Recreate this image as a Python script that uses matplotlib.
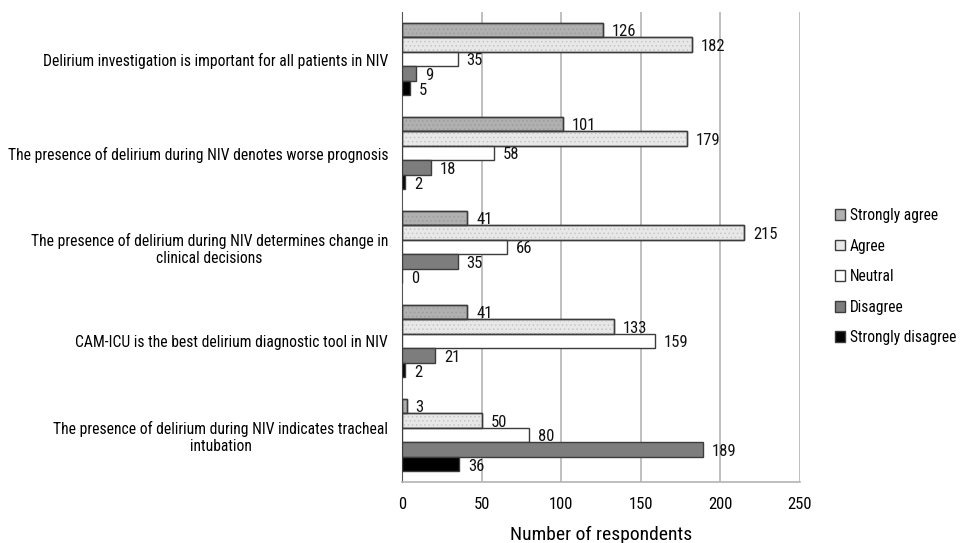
import matplotlib
matplotlib.use("Agg")
import matplotlib.pyplot as plt
import numpy as np
from matplotlib import font_manager

categories = [
    "Delirium investigation is important for all patients in NIV",
    "The presence of delirium during NIV denotes worse prognosis",
    "The presence of delirium during NIV determines change in\nclinical decisions",
    "CAM-ICU is the best delirium diagnostic tool in NIV",
    "The presence of delirium during NIV indicates tracheal\nintubation",
]
series_names = ["Strongly agree", "Agree", "Neutral", "Disagree", "Strongly disagree"]
strongly_agree = [126, 101, 41, 41, 3]
agree = [182, 179, 215, 133, 50]
neutral = [35, 58, 66, 159, 80]
disagree = [9, 18, 35, 21, 189]
strongly_disagree = [5, 2, 0, 2, 36]
xticks = [0, 50, 100, 150, 200, 250]

names = {f.name for f in font_manager.fontManager.ttflist}
candidates = ["Roboto Condensed", "Archivo Narrow", "PT Sans Narrow", "Liberation Sans Narrow",
              "Open Sans Condensed", "IBM Plex Sans Condensed"]
fam = next((c for c in candidates if c in names), None)
if fam is None:
    fam = "Liberation Sans"
    scale = 0.8
else:
    scale = 1.0
plt.rcParams["font.family"] = [fam, "DejaVu Sans"]
plt.rcParams["hatch.linewidth"] = 0.6

values = [strongly_agree, agree, neutral, disagree, strongly_disagree]
colors = ["#b0b0b0", "#e8e8e8", "#ffffff", "#7d7d7d", "#000000"]
hatches = ["....", "....", None, None, None]
hatch_cols = ["#9c9c9c", "#c6c6c6", None, None, None]
edge = "#3c3c3c"

fig = plt.figure(figsize=(9.6, 5.43), dpi=100)
ax = fig.add_axes([402/960, 61/543, 398/960, 470/543])

n = len(categories)
h = 0.155
y = np.arange(n)
for i, (name, vals, c) in enumerate(zip(series_names, values, colors)):
    pos = y + (i - 2) * h
    ax.barh(pos, vals, height=h, color=c, edgecolor=edge, linewidth=1.0,
            label=name, zorder=3)
    if hatches[i]:
        ax.barh(pos, vals, height=h, fill=False, hatch=hatches[i],
                edgecolor=hatch_cols[i], linewidth=0, zorder=3.5)
        ax.barh(pos, vals, height=h, fill=False, edgecolor=edge, linewidth=1.0, zorder=3.6)
    for p, v in zip(pos, vals):
        ax.text(v + 5.5, p + 0.02, str(v), va="center", ha="left", fontsize=12 * scale,
                color="#111111", zorder=4)

ax.set_xlim(0, 250)
ax.set_ylim(n - 0.5, -0.5)
ax.set_xticks(xticks)
ax.set_yticks(y)
ax.set_yticklabels(categories, fontsize=11.25 * scale, multialignment="center")
ax.tick_params(axis="both", length=0)
ax.tick_params(axis="x", pad=11, labelsize=12 * scale)
ax.tick_params(axis="y", pad=10)
ax.grid(axis="x", color="#b4b4b4", linewidth=1.2, zorder=0)
for s in ["top", "right"]:
    ax.spines[s].set_visible(False)
ax.spines["left"].set_color("#555555")
ax.spines["bottom"].set_color("#b4b4b4")
ax.spines["bottom"].set_linewidth(1.2)
ax.set_xlabel("Number of respondents", fontsize=14 * scale, labelpad=10)

leg = fig.legend(loc="upper left", bbox_to_anchor=(835/960, 1 - 208/543), frameon=False,
                 fontsize=11.2 * scale, handlelength=0.67, handleheight=0.67, handletextpad=0.3,
                 labelspacing=1.0, borderaxespad=0, borderpad=0)
for p, c in zip(leg.get_patches(), colors):
    p.set_edgecolor(edge)
    p.set_facecolor(c)

fig.savefig("out.png", dpi=100)
